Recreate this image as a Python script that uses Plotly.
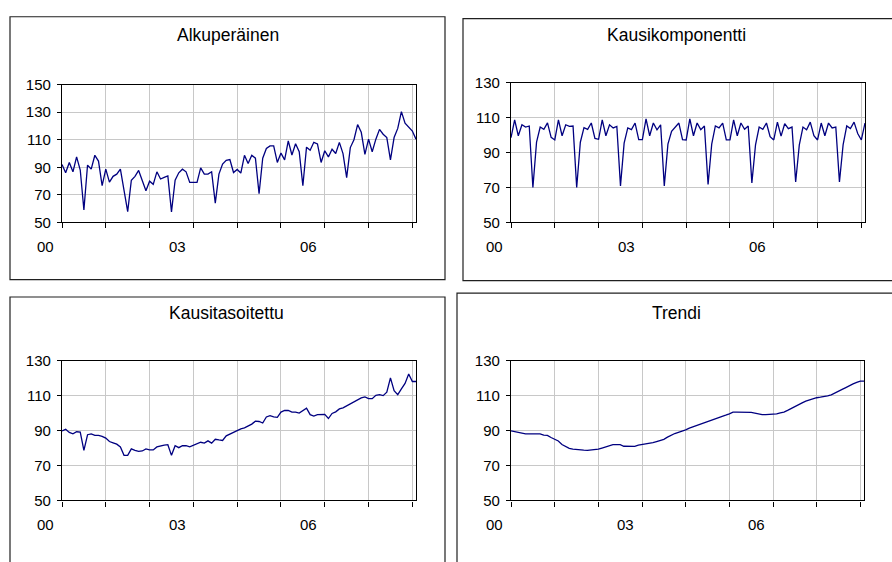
import plotly.graph_objects as go

# ---- data (monthly, Jan 2000 .. Feb 2008) ----
months = [2000 + i / 12 for i in range(98)]

original = [92, 86, 93.5, 86.7, 97.5, 88, 59, 91.6, 88.6, 98.7, 94.5, 76.6,
            88.6, 79.2, 83.4, 85, 88.6, 72.4, 57.8, 80.6, 83.4, 87.7, 80.1, 72.9,
            79.9, 77.6, 86.7, 81.5, 82.7, 83.7, 57.6, 80.6, 86, 88.6, 86.7, 79,
            79, 79, 89.5, 85, 85, 86.7, 64, 85, 92.3, 95, 95.6, 86.2,
            88.4, 85.8, 98.7, 92.8, 98.7, 96.6, 70.8, 96.6, 103.6, 105.5, 105.5, 93.5,
            100.3, 95.4, 109.2, 98.9, 107.1, 101.3, 76.6, 104.6, 102.4, 108.1, 106.9, 93.5,
            102, 97.5, 103.1, 100, 108.1, 99.9, 82.5, 104.3, 110, 121, 115.4, 99.4,
            110.4, 101.3, 110.4, 117.5, 114, 111.6, 95.4, 111.6, 118.2, 130.4, 122, 119.3,
            116.3, 110.4]

seasonal = [98.5, 108.7, 99.6, 105.9, 104.6, 105.2, 70, 95.9, 104.6, 103.3, 107, 98.7,
            97.2, 108.7, 99.6, 105.9, 105, 105.2, 70, 95.9, 104.3, 103.3, 106.9, 98.1,
            97.6, 108.7, 99.6, 105.9, 104.1, 105, 70.9, 95.4, 104.1, 103.1, 106.9, 97.4,
            97.4, 109.3, 99.6, 106.9, 103, 105.9, 70.9, 94.8, 102.2, 104.6, 106.9, 97.4,
            97.2, 109.3, 99.6, 106.9, 103.1, 105.2, 71.7, 94.8, 105.2, 104.1, 106.9, 97.2,
            97.2, 108.7, 99.6, 106.9, 103.3, 105.2, 72.6, 94.4, 104.6, 103.3, 106.9, 99.1,
            97.2, 107.4, 99.4, 106.5, 103.7, 104.6, 73.1, 94.4, 104.6, 103.1, 107.4, 99.6,
            97.2, 106.9, 99.6, 106.9, 104.1, 104.6, 73.1, 94.4, 105.2, 103.7, 107.4, 100.9,
            97.2, 106.9]

adjusted = [89.8, 90.7, 88.9, 88.1, 89.3, 89.1, 78.7, 87.6, 88.1, 87.2, 87.2, 86.7,
            85.7, 83.7, 83, 82.2, 80.6, 75.8, 75.8, 79.5, 78.7, 78.1, 78.3, 79.5,
            78.9, 78.9, 80.6, 81.3, 81.7, 81.9, 75.8, 81.3, 80.2, 81.3, 81.3, 80.7,
            81.7, 82.4, 83.3, 82.8, 84.1, 82.8, 85, 84.6, 84.3, 87, 88.1, 88.9,
            90, 91, 91.5, 92.4, 93.7, 95.4, 95.2, 94.3, 97.8, 98.5, 97.8, 97.6,
            100.6, 101.5, 101.5, 100.6, 100.6, 100, 101.5, 102.8, 99.1, 98.3, 99.1, 99.1,
            99.3, 96.9, 99.8, 100.7, 102.4, 103, 104.1, 105.4, 106.5, 107.8, 108.7, 109.3,
            108.3, 108.3, 110.2, 110.6, 110, 112, 120.2, 112.8, 110.6, 113.9, 117, 122.4,
            118.1, 118.1]

trend = [89.8, 89.4, 89.0, 88.3, 88.1, 88.1, 88.1, 88.1, 88.1, 87.4, 87.2, 86.0,
         85.0, 84.0, 82.0, 80.9, 79.8, 79.4, 79.1, 78.9, 78.8, 78.7, 78.8, 79.1,
         79.4, 80.0, 80.7, 81.3, 81.9, 81.9, 81.9, 81.0, 80.9, 80.9, 80.9, 81.6,
         81.9, 82.3, 82.7, 83.1, 83.7, 84.3, 85.0, 86.2, 87.3, 88.3, 89.0, 89.6,
         90.4, 91.4, 92.1, 92.8, 93.6, 94.3, 95.1, 95.9, 96.6, 97.4, 98.1, 98.8,
         99.6, 100.6, 100.6, 100.6, 100.6, 100.6, 100.4, 100.0, 99.5, 99.1, 99.1, 99.1,
         99.1, 99.5, 100.1, 100.6, 101.6, 102.8, 104.0, 105.0, 105.9, 106.9, 107.6, 108.3,
         108.8, 109.1, 109.3, 109.9, 110.5, 111.4, 112.4, 113.6, 114.6, 115.8, 116.7, 117.6,
         118.3, 118.3]

titles = ["Alkuperäinen", "Kausikomponentti", "Kausitasoitettu", "Trendi"]
series = [original, seasonal, adjusted, trend]
y_ranges = [[50, 150], [50, 130], [50, 130], [50, 130]]
year_ticks = list(range(2000, 2009))
label_years = [2000, 2003, 2006]
label_texts = ["00", "03", "06"]

W, H = 892, 562
FONT = "Liberation Sans, Arial, sans-serif"
X0, X1 = 2000, 2000 + 97 / 12

# plot-area boxes in pixels: (left, right, top, bottom)
areas = [(62, 416, 78, 220), (511, 865, 76, 220),
         (62, 416, 362.7, 506.7), (511, 864, 362.7, 506.7)]
# outer frames (left, right, top, bottom)
frames = [(10, 445, 8, 279), (463, 940, 10, 280),
          (10, 445, 297, 600), (457, 940, 293, 600)]
title_pos = [(228, 27), (676, 27), (226.5, 313), (676, 313)]

fig = go.Figure()
layout = dict(width=W, height=H, margin=dict(l=0, r=0, t=0, b=0),
              paper_bgcolor="white", plot_bgcolor="white", showlegend=False,
              font=dict(family=FONT, size=15, color="black"))
shapes = []
annotations = []

for k in range(4):
    xa = "x" if k == 0 else f"x{k+1}"
    ya = "y" if k == 0 else f"y{k+1}"
    fig.add_trace(go.Scatter(x=months, y=series[k], mode="lines",
                             line=dict(color="#000080", width=1.3),
                             xaxis=xa, yaxis=ya))
    l, r, t, b = areas[k]
    axis_common = dict(showline=True, linecolor="black", linewidth=1.3, mirror=True,
                       showgrid=True, gridcolor="#c8c8c8", gridwidth=1,
                       ticks="outside", tickcolor="black", zeroline=False)
    layout["xaxis" if k == 0 else f"xaxis{k+1}"] = dict(
        domain=[l / W, r / W], anchor=ya, range=[X0, X1],
        tickvals=year_ticks, showticklabels=False, ticklen=5, **axis_common)
    layout["yaxis" if k == 0 else f"yaxis{k+1}"] = dict(
        domain=[1 - b / H, 1 - t / H], anchor=xa, range=y_ranges[k], dtick=20,
        tick0=50, ticklen=4, ticklabelstandoff=3, **axis_common,
        tickfont=dict(size=15, family=FONT, color="black"))
    for yr, txt in zip(label_years, label_texts):
        annotations.append(dict(x=(yr - 0.37 - X0) / (X1 - X0), y=-0.175,
                                xref=f"{xa} domain", yref=f"{ya} domain",
                                xanchor="center", yanchor="middle",
                                text=txt, showarrow=False,
                                font=dict(size=15, family=FONT, color="black")))
    fl, fr, ft, fb = frames[k]
    shapes.append(dict(type="rect", xref="paper", yref="paper",
                       x0=fl / W, x1=fr / W, y0=1 - fb / H, y1=1 - ft / H,
                       line=dict(color="#202020", width=1.2), layer="below"))
    tx, ty = title_pos[k]
    annotations.append(dict(x=tx / W, y=1 - ty / H, xref="paper", yref="paper",
                            xanchor="center", yanchor="middle",
                            text=titles[k], showarrow=False,
                            font=dict(size=17.5, family=FONT, color="black")))

layout["shapes"] = shapes
layout["annotations"] = annotations
fig.update_layout(**layout)
fig.write_html("out.html", config={"displayModeBar": False},
               post_script="document.body.style.margin='0';"
                           "document.body.style.overflow='hidden';")
